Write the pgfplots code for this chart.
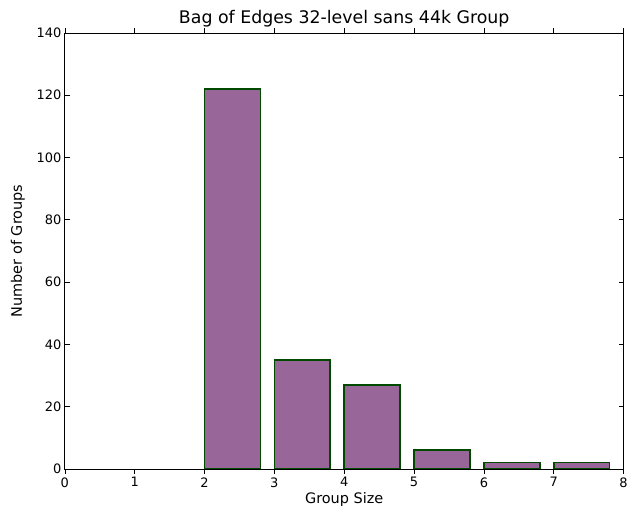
\documentclass[border=0pt]{standalone}
\usepackage{pgfplots}
\pgfplotsset{compat=1.18}
\usepackage{fontspec}
\setmainfont{DejaVu Sans}
\definecolor{barfill}{HTML}{996699}
\definecolor{baredge}{HTML}{004A00}
\begin{document}
\begin{tikzpicture}
\begin{axis}[
  name=ax,
  at={(0,0)}, anchor=south west,
  scale only axis,
  width=560bp, height=437bp,
  xmin=0, xmax=8, ymin=0, ymax=140,
  xtick={0,...,8}, ytick={0,20,...,140},
  tick align=inside,
  major tick length=5bp,
  tick style={black, line width=0.6bp},
  axis line style={black, line width=0.8bp},
  /pgf/number format/assume math mode=true,
  ticklabel style={font=\fontsize{13bp}{15bp}\selectfont},
  label style={font=\fontsize{14.5bp}{16bp}\selectfont},
  xlabel={Group Size}, ylabel={Number of Groups},
  xlabel style={at={(axis description cs:0.5,-0.07)}, anchor=center},
  ylabel style={at={(axis description cs:-0.0839,0.5)}, anchor=center},
  title={Bag of Edges 32-level sans 44k Group},
  title style={font=\fontsize{17.4bp}{19bp}\selectfont, yshift=-4bp},
  ybar, bar width=0.8,
]
\addplot[fill=barfill, draw=baredge, line width=1.6bp] coordinates {
  (2.4,122) (3.4,35) (4.4,27) (5.4,6) (6.4,2) (7.4,2)
};
\end{axis}
\path[use as bounding box] ([xshift=-65bp,yshift=-40bp]ax.south west) rectangle ([xshift=6bp,yshift=33bp]ax.north east);
\end{tikzpicture}
\end{document}
